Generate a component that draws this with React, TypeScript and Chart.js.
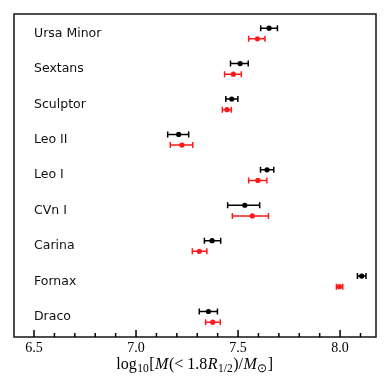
import React, { useEffect, useRef } from "react";
import { Chart, registerables } from "chart.js";

Chart.register(...registerables);

const galaxies = ["Draco", "Fornax", "Carina", "CVn I", "Leo I", "Leo II", "Sculptor", "Sextans", "Ursa Minor"];

const blackMass = [7.355, 8.106, 7.373, 7.533, 7.642, 7.209, 7.469, 7.51, 7.652];
const blackLow = [7.31, 8.085, 7.335, 7.449, 7.61, 7.155, 7.44, 7.463, 7.611];
const blackHigh = [7.399, 8.127, 7.415, 7.606, 7.675, 7.258, 7.499, 7.55, 7.693];

const redMass = [7.376, 7.997, 7.31, 7.57, 7.597, 7.225, 7.446, 7.477, 7.595];
const redLow = [7.341, 7.982, 7.276, 7.472, 7.552, 7.168, 7.423, 7.434, 7.552];
const redHigh = [7.413, 8.013, 7.347, 7.649, 7.641, 7.278, 7.467, 7.516, 7.632];

const majorTicks = [6.5, 7.0, 7.5, 8.0];
const minorTicks = [6.6, 6.7, 6.8, 6.9, 7.1, 7.2, 7.3, 7.4, 7.6, 7.7, 7.8, 7.9, 8.1];

const X_MIN = 6.402;
const X_MAX = 8.176;
const Y_MIN = -0.57;
const Y_MAX = 8.55;
const OFFSET = 0.15;

const BLACK = "#000000";
const RED = "#ff1a1a";

const makePoints = (vals: number[], off: number) =>
  vals.map((v, i) => ({ x: v, y: i + off }));

const errorPlugin = {
  id: "errorBars",
  beforeDatasetsDraw(chart: any) {
    const ctx = chart.ctx;
    const xs = chart.scales.x;
    const ys = chart.scales.y;
    const sets = [
      { low: blackLow, high: blackHigh, off: OFFSET, color: BLACK },
      { low: redLow, high: redHigh, off: -OFFSET, color: RED },
    ];
    ctx.save();
    ctx.lineWidth = 1.5;
    sets.forEach((s) => {
      ctx.strokeStyle = s.color;
      s.low.forEach((lo, i) => {
        const y = ys.getPixelForValue(i + s.off);
        const x1 = xs.getPixelForValue(lo);
        const x2 = xs.getPixelForValue(s.high[i]);
        ctx.beginPath();
        ctx.moveTo(x1, y);
        ctx.lineTo(x2, y);
        ctx.moveTo(x1, y - 3);
        ctx.lineTo(x1, y + 3);
        ctx.moveTo(x2, y - 3);
        ctx.lineTo(x2, y + 3);
        ctx.stroke();
      });
    });
    ctx.restore();
  },
  afterDraw(chart: any) {
    const ctx = chart.ctx;
    const xs = chart.scales.x;
    const ys = chart.scales.y;
    const a = chart.chartArea;
    ctx.save();
    // galaxy labels
    ctx.fillStyle = "#111";
    ctx.font = "12.5px 'DejaVu Sans'";
    ctx.textAlign = "left";
    ctx.textBaseline = "middle";
    galaxies.forEach((g, i) => {
      ctx.fillText(g, xs.getPixelForValue(6.5), ys.getPixelForValue(i));
    });
    // frame
    ctx.strokeStyle = "#222";
    ctx.lineWidth = 1.6;
    ctx.strokeRect(a.left, a.top, a.right - a.left, a.bottom - a.top);
    // ticks (inward on bottom axis)
    ctx.strokeStyle = "#000";
    ctx.lineWidth = 1.5;
    ctx.beginPath();
    majorTicks.forEach((t) => {
      const x = xs.getPixelForValue(t);
      ctx.moveTo(x, a.bottom);
      ctx.lineTo(x, a.bottom - 7);
    });
    minorTicks.forEach((t) => {
      const x = xs.getPixelForValue(t);
      ctx.moveTo(x, a.bottom);
      ctx.lineTo(x, a.bottom - 4);
    });
    ctx.stroke();
    // axis title
    ctx.fillStyle = "#000";
    const base = 369;
    const big = "16px 'Liberation Serif'";
    const bigIt = "italic 16px 'Liberation Serif'";
    const small = "11.5px 'Liberation Serif'";
    const parts: [string, string, number][] = [
      ["log", big, 0],
      ["10", small, 3],
      ["[", big, 0],
      ["M", bigIt, 0],
      ["(< 1.8", big, 0],
      ["R", bigIt, 0],
      ["1/2", small, 3],
      [")/", big, 0],
      ["M", bigIt, 0],
      ["\u2299", small, 3],
      ["]", big, 0],
    ];
    let total = 0;
    parts.forEach(([t, f]) => {
      ctx.font = f;
      total += ctx.measureText(t).width + 0.5;
    });
    let x = (a.left + a.right) / 2 - total / 2;
    ctx.textAlign = "left";
    ctx.textBaseline = "alphabetic";
    parts.forEach(([t, f, dy]) => {
      ctx.font = f;
      ctx.fillText(t, x, base + dy);
      x += ctx.measureText(t).width + 0.5;
    });
    ctx.restore();
  },
};

export default function App() {
  const ref = useRef<HTMLCanvasElement | null>(null);
  useEffect(() => {
    document.body.style.margin = "0";
    if (!ref.current) return;
    const chart = new Chart(ref.current, {
      type: "scatter",
      data: {
        datasets: [
          {
            label: "black",
            data: makePoints(blackMass, OFFSET),
            backgroundColor: BLACK,
            borderColor: BLACK,
            pointRadius: 2.6,
            borderWidth: 0,
          },
          {
            label: "red",
            data: makePoints(redMass, -OFFSET),
            backgroundColor: RED,
            borderColor: RED,
            pointRadius: 2.6,
            borderWidth: 0,
          },
        ],
      },
      options: {
        animation: false,
        responsive: false,
        devicePixelRatio: 1,
        layout: { padding: { left: 14, right: 14, top: 14, bottom: 0 } },
        plugins: { legend: { display: false }, tooltip: { enabled: false } },
        scales: {
          x: {
            type: "linear",
            min: X_MIN,
            max: X_MAX,
            grid: { display: false, drawTicks: false },
            border: { display: false },
            afterBuildTicks: (scale: any) => {
              scale.ticks = majorTicks.map((v) => ({ value: v }));
            },
            afterFit: (scale: any) => {
              scale.height = 53;
            },
            ticks: {
              autoSkip: false,
              maxRotation: 0,
              padding: 3,
              color: "#000",
              font: { family: "'Liberation Serif'", size: 14 },
              callback: (v: any) => Number(v).toFixed(1),
            },
          },
          y: {
            type: "linear",
            min: Y_MIN,
            max: Y_MAX,
            display: false,
          },
        },
      },
      plugins: [errorPlugin],
    } as any);
    return () => chart.destroy();
  }, []);
  return (
    <div style={{ width: 390, height: 390 }}>
      <canvas ref={ref} width={390} height={390} />
    </div>
  );
}
